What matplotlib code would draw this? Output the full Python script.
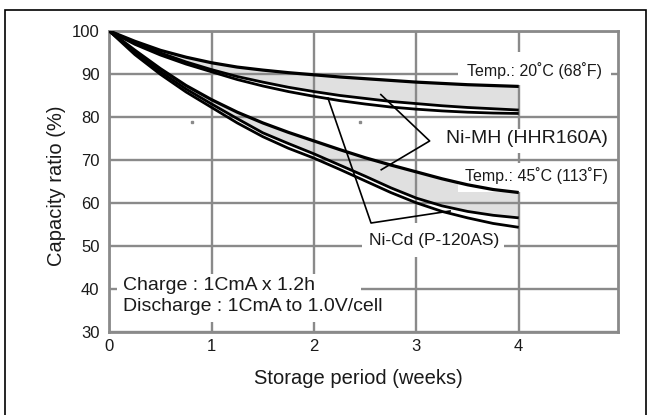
import matplotlib
matplotlib.use("Agg")
import matplotlib.pyplot as plt
from matplotlib.patches import Rectangle

plt.rcParams['font.family'] = ['Liberation Sans', 'DejaVu Sans']

# ---------------- data ----------------
weeks = [0, 0.25, 0.5, 0.75, 1, 1.25, 1.5, 1.75, 2, 2.25, 2.5, 2.75, 3, 3.25, 3.5, 3.75, 4]

nimh_20_upper = [100, 97.6, 95.5, 93.9, 92.6, 91.6, 90.9, 90.3, 89.8, 89.3, 88.9, 88.5, 88.1, 87.8, 87.5, 87.3, 87.1]
nimh_20_lower = [100, 97.2, 94.9, 92.8, 91.0, 89.4, 88.1, 86.9, 85.9, 85.0, 84.3, 83.6, 83.1, 82.6, 82.2, 81.9, 81.6]
nicd_20 = [100, 96.9, 94.4, 92.3, 90.5, 88.7, 87.2, 85.9, 84.8, 83.8, 83.0, 82.3, 81.8, 81.4, 81.1, 80.9, 80.8]

nimh_45_upper = [100, 95.5, 91.2, 87.3, 84.0, 81.1, 78.6, 76.4, 74.4, 72.4, 70.5, 68.8, 67.2, 65.6, 64.2, 63.1, 62.4]
nimh_45_lower = [100, 95.0, 90.5, 86.5, 83.0, 79.6, 76.3, 73.8, 71.4, 68.8, 66.2, 63.5, 61.1, 59.3, 58.0, 57.1, 56.5]
nicd_45 = [100, 94.5, 89.9, 85.8, 82.2, 78.6, 75.4, 72.7, 70.4, 67.8, 65.1, 62.4, 60.0, 58.0, 56.5, 55.2, 54.3]

x_ticks = [0, 1, 2, 3, 4]
y_ticks = [30, 40, 50, 60, 70, 80, 90, 100]

artifact_x = [0.81, 2.45]
artifact_y = [78.8, 78.8]

# ---------------- figure ----------------
fig = plt.figure(figsize=(6.54, 4.15), dpi=100)
W, H = 654, 415

# outer frame
frame = Rectangle((5.5 / W, -0.05), (646 - 5.5) / W, 1 - 9.5 / H + 0.05,
                  transform=fig.transFigure, fill=False, edgecolor='black',
                  linewidth=1.2, zorder=0)
fig.patches.append(frame)

ax = fig.add_axes([109.3 / W, 1 - 331.7 / H, (618 - 109.3) / W, (331.7 - 31) / H])
ax.set_xlim(0, 4.97)
ax.set_ylim(30, 100)

gridc = '#8a8a8a'
ax.set_xticks(x_ticks)
ax.set_yticks(y_ticks)
ax.set_xticklabels([str(v) for v in x_ticks])
ax.set_yticklabels([str(v) for v in y_ticks])
ax.tick_params(length=0, labelsize=12, labelcolor='#1a1a1a')
ax.tick_params(axis='y', pad=7)
ax.tick_params(axis='x', pad=5)
ax.grid(True, color=gridc, linewidth=1.7, zorder=2)
ax.set_axisbelow(False)
for s in ax.spines.values():
    s.set_color(gridc)
    s.set_linewidth(2.0)
    s.set_zorder(2)

# bands
ax.fill_between(weeks, nimh_20_lower, nimh_20_upper, color='#e0e0e0', zorder=1, linewidth=0)
ax.fill_between(weeks, nimh_45_lower, nimh_45_upper, color='#e0e0e0', zorder=1, linewidth=0)

# curves
for ys in (nimh_20_upper, nimh_45_upper):
    ax.plot(weeks, ys, color='black', linewidth=2.3, zorder=4, solid_capstyle='butt',
            solid_joinstyle='round')
for ys in (nimh_20_lower, nicd_20, nimh_45_lower, nicd_45):
    ax.plot(weeks, ys, color='black', linewidth=2.0, zorder=4, solid_capstyle='butt',
            solid_joinstyle='round')

# tiny specks
ax.plot(artifact_x, artifact_y, linestyle='none', marker='s', markersize=1.6,
        color='#8a8a8a', zorder=3)

# white boxes interrupting the grid
boxes = [
    (0.074, 32.2, 2.455 - 0.074, 43.4 - 32.2),
    (2.465, 47.3, 3.86 - 2.465, 55.2 - 47.3),
    (3.41, 87.5, 4.898 - 3.41, 95.1 - 87.5),
    (3.41, 62.6, 4.93 - 3.41, 69.2 - 62.6),
    (3.19, 71.7, 4.95 - 3.19, 77.3 - 71.7),
]
for (bx, by, bw, bh) in boxes:
    ax.add_patch(Rectangle((bx, by), bw, bh, facecolor='white', edgecolor='none', zorder=3))

tc = '#1a1a1a'
ax.text(4.155, 90.75, 'Temp.: 20˚C (68˚F)', ha='center', va='center', fontsize=11.5, color=tc, zorder=5)
ax.text(4.175, 66.4, 'Temp.: 45˚C (113˚F)', ha='center', va='center', fontsize=11.5, color=tc, zorder=5)
ax.text(4.078, 74.9, 'Ni-MH (HHR160A)', ha='center', va='center', fontsize=14, color=tc, zorder=5)
ax.text(3.17, 51.2, 'Ni-Cd (P-120AS)', ha='center', va='center', fontsize=12.5, color=tc, zorder=5)
ax.text(0.134, 38.3, 'Charge : 1CmA x 1.2h\nDischarge : 1CmA to 1.0V/cell', ha='left', va='center',
        fontsize=14, color=tc, linespacing=1.3, zorder=5)

# leader lines
ax.plot([2.653, 3.13, 2.657], [85.2, 74.4, 67.7], color='black', linewidth=1.2, zorder=5)
ax.plot([2.136, 2.557, 3.33], [84.4, 55.3, 58.1], color='black', linewidth=1.2, zorder=5)

fig.text(56 / W, 1 - 186 / H, 'Capacity ratio (%)', rotation=90, ha='center', va='center',
         fontsize=14.5, color=tc)
fig.text(358.5 / W, 1 - 378 / H, 'Storage period (weeks)', ha='center', va='center',
         fontsize=14.5, color=tc)

fig.savefig('out.png', dpi=100)
